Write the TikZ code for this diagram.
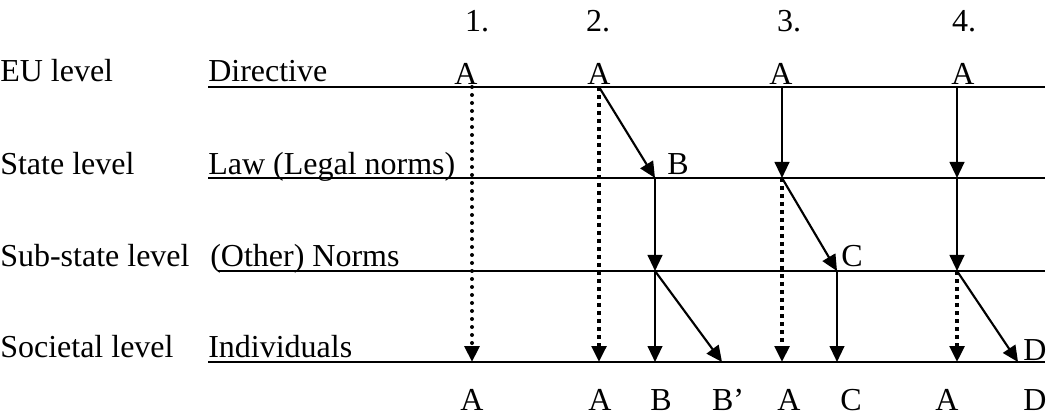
\documentclass[tikz,border=0pt]{standalone}
\usepackage{fontspec}
\setmainfont{Liberation Serif}
\usetikzlibrary{arrows.meta}

\begin{document}
\begin{tikzpicture}[x=0.75pt, y=-0.75pt,
    font=\fontsize{24}{28}\selectfont,
    lbl/.style={inner sep=0pt, anchor=base},
    lvl/.style={inner sep=0pt, anchor=base west},
    level/.style={line width=1.8pt},
    flow/.style={line width=1.6pt, -{Triangle[length=12pt,width=11pt]}},
    direct/.style={flow, line width=3pt, line cap=round, dash pattern=on 0pt off 6pt},
    keep/.style={flow, line width=2.6pt, dash pattern=on 3pt off 3pt}]
    \useasboundingbox (0,0) rectangle (1048,416);

    % Level lines
    \coordinate (eu-l) at (208,87);   \coordinate (eu-r) at (1045,87);
    \coordinate (st-l) at (208,178);  \coordinate (st-r) at (1045,178);
    \coordinate (sub-l) at (218,271); \coordinate (sub-r) at (1045,271);
    \coordinate (soc-l) at (208,362); \coordinate (soc-r) at (1045,362);
    \draw[level] (eu-l) -- (eu-r);
    \draw[level] (st-l) -- (st-r);
    \draw[level] (sub-l) -- (sub-r);
    \draw[level] (soc-l) -- (soc-r);

    % Level names
    \node[lvl] (eu) at (0,82) {EU level};
    \node[lvl] (state) at (0,175) {State level};
    \node[lvl] (substate) at (0,267) {Sub-state level};
    \node[lvl] (society) at (0,357) {Societal level};
    \node[lvl] (directive) at (208,82) {Directive};
    \node[lvl] (law) at (208,175) {Law (Legal norms)};
    \node[lvl] (norms) at (210,267) {(Other) Norms};
    \node[lvl] (indiv) at (208,357) {Individuals};

    % Case numbers
    \node[lbl] (n1) at (477,32) {1.};
    \node[lbl] (n2) at (598,32) {2.};
    \node[lbl] (n3) at (789,32) {3.};
    \node[lbl] (n4) at (964,32) {4.};

    % Directive on top
    \node[lbl] (a1) at (466,85) {A};
    \node[lbl] (a2) at (599,85) {A};
    \node[lbl] (a3) at (781,85) {A};
    \node[lbl] (a4) at (963,85) {A};

    % Points on the lines
    \coordinate (c1-top) at (472,87);  \coordinate (c1-bot) at (472,362);
    \coordinate (c2-top) at (599,87);  \coordinate (c2-bot) at (599,362);
    \coordinate (b-st) at (655,178);   \coordinate (b-sub) at (655,271);
    \coordinate (b-bot) at (655,362);  \coordinate (bp-bot) at (722,362);
    \coordinate (c3-top) at (782,87);  \coordinate (c3-st) at (782,178);
    \coordinate (c3-bot) at (782,362); \coordinate (c-sub) at (837,271);
    \coordinate (c-bot) at (837,362);
    \coordinate (c4-top) at (957,87);  \coordinate (c4-st) at (957,178);
    \coordinate (c4-sub) at (957,271); \coordinate (c4-bot) at (957,362);
    \coordinate (d-bot) at (1018,362);

    % 1.
    \draw[direct] (c1-top) -- (c1-bot);
    % 2.
    \draw[keep] (c2-top) -- (c2-bot);
    \draw[flow] (c2-top) -- (b-st);
    \draw[flow] (b-st) -- (b-sub);
    \draw[flow] (b-sub) -- (b-bot);
    \draw[flow] (b-sub) -- (bp-bot);
    % 3.
    \draw[flow] (c3-top) -- (c3-st);
    \draw[keep] (c3-st) -- (c3-bot);
    \draw[flow] (c3-st) -- (c-sub);
    \draw[flow] (c-sub) -- (c-bot);
    % 4.
    \draw[flow] (c4-top) -- (c4-st);
    \draw[flow] (c4-st) -- (c4-sub);
    \draw[keep] (c4-sub) -- (c4-bot);
    \draw[flow] (c4-sub) -- (d-bot);

    % Labels at the arrow tips
    \node[lbl] (b) at (678,175) {B};
    \node[lbl] (c) at (852,267) {C};
    \node[lbl] (d) at (1035,360) {D};

    % Result on the bottom
    \node[lbl] (r1) at (472,410) {A};
    \node[lbl] (r2) at (600,410) {A};
    \node[lbl] (r3) at (661,410) {B};
    \node[lbl] (r4) at (728,410) {B’};
    \node[lbl] (r5) at (789,410) {A};
    \node[lbl] (r6) at (851,410) {C};
    \node[lbl] (r7) at (947,410) {A};
    \node[lbl] (r8) at (1035,410) {D};
\end{tikzpicture}
\end{document}
